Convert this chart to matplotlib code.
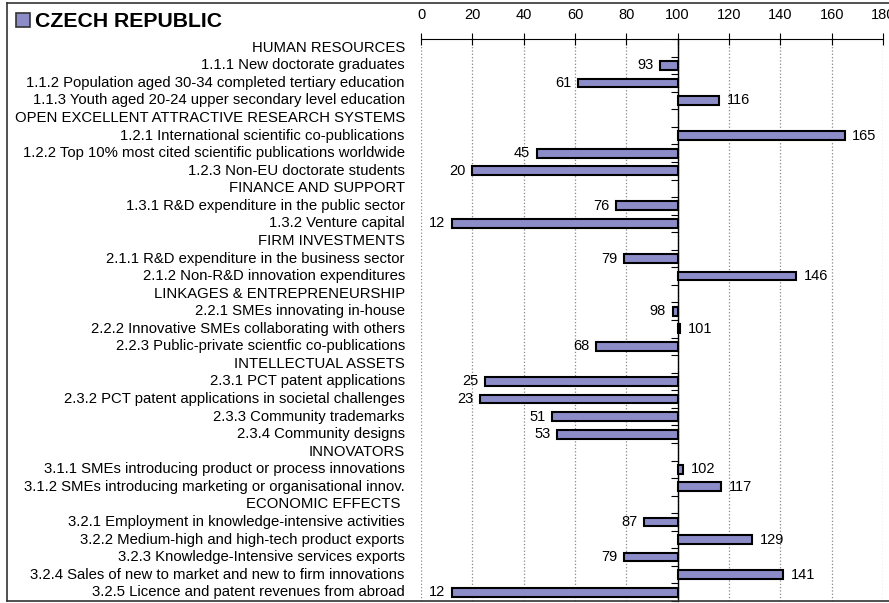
import matplotlib.pyplot as plt
from matplotlib.patches import Rectangle
from matplotlib.lines import Line2D

plt.rcParams['font.family'] = ['Liberation Sans', 'DejaVu Sans']

# rows top to bottom, None = section header
labels = [
    "HUMAN RESOURCES",
    "1.1.1 New doctorate graduates",
    "1.1.2 Population aged 30-34 completed tertiary education",
    "1.1.3 Youth aged 20-24 upper secondary level education",
    "OPEN EXCELLENT ATTRACTIVE RESEARCH SYSTEMS",
    "1.2.1 International scientific co-publications",
    "1.2.2 Top 10% most cited scientific publications worldwide",
    "1.2.3 Non-EU doctorate students",
    "FINANCE AND SUPPORT",
    "1.3.1 R&D expenditure in the public sector",
    "1.3.2 Venture capital",
    "FIRM INVESTMENTS",
    "2.1.1 R&D expenditure in the business sector",
    "2.1.2 Non-R&D innovation expenditures",
    "LINKAGES & ENTREPRENEURSHIP",
    "2.2.1 SMEs innovating in-house",
    "2.2.2 Innovative SMEs collaborating with others",
    "2.2.3 Public-private scientfic co-publications",
    "INTELLECTUAL ASSETS",
    "2.3.1 PCT patent applications",
    "2.3.2 PCT patent applications in societal challenges",
    "2.3.3 Community trademarks",
    "2.3.4 Community designs",
    "INNOVATORS",
    "3.1.1 SMEs introducing product or process innovations",
    "3.1.2 SMEs introducing marketing or organisational innov.",
    "ECONOMIC EFFECTS ",
    "3.2.1 Employment in knowledge-intensive activities",
    "3.2.2 Medium-high and high-tech product exports",
    "3.2.3 Knowledge-Intensive services exports",
    "3.2.4 Sales of new to market and new to firm innovations",
    "3.2.5 Licence and patent revenues from abroad",
]
values = [None, 93, 61, 116, None, 165, 45, 20, None, 76, 12, None, 79, 146,
          None, 98, 101, 68, None, 25, 23, 51, 53, None, 102, 117, None,
          87, 129, 79, 141, 12]
xticks = [0, 20, 40, 60, 80, 100, 120, 140, 160, 180]
base = 100
bar_color = '#8B8CC8'

fig = plt.figure(figsize=(8.89, 6.03), dpi=100)
ax = fig.add_axes([421 / 889, 1 - 601 / 603, 462 / 889, 562 / 603])

for i, v in enumerate(values):
    if v is None:
        continue
    ax.barh(i, v - base, left=base, height=0.5, color=bar_color,
            edgecolor='black', linewidth=1.5, zorder=3)
    if v < base:
        ax.text(v - 2.5, i, str(v), ha='right', va='center', fontsize=10.5)
    else:
        ax.text(v + 3, i, str(v), ha='left', va='center', fontsize=10.5)

ax.set_xlim(0, 180)
ax.set_ylim(len(labels) - 0.5, -0.5)
ax.xaxis.tick_top()
ax.set_xticks(xticks)
ax.set_xticklabels([str(t) for t in xticks], fontsize=10.5)
ax.tick_params(axis='x', direction='inout', length=9, width=0.8, pad=8)
ax.xaxis.grid(True, linestyle=':', color='#888888', linewidth=0.9)
ax.set_axisbelow(True)

for s in ['right', 'bottom']:
    ax.spines[s].set_visible(False)
ax.spines['left'].set_position(('data', base))
ax.spines['left'].set_linewidth(1.0)
ax.spines['top'].set_linewidth(0.8)
ax.set_yticks([k + 0.5 for k in range(-1, len(labels))])
ax.set_yticklabels([])
ax.tick_params(axis='y', direction='out', length=5, width=0.8)

trans = ax.get_yaxis_transform()
for i, lab in enumerate(labels):
    ax.text(-0.035, i, lab, transform=trans, ha='right', va='center',
            fontsize=10.7, clip_on=False)

# title with legend square
fig.patches.append(Rectangle((16 / 889, 1 - 27 / 603), 14 / 889, 14 / 603,
                             transform=fig.transFigure, facecolor=bar_color,
                             edgecolor='#333333', linewidth=1.2))
fig.text(35 / 889, 1 - 27 / 603, "CZECH REPUBLIC", fontsize=15.3,
         fontweight='bold', va='baseline', ha='left')

# outer frame
fig.lines.append(Line2D([7 / 889, 1], [1 - 3 / 603, 1 - 3 / 603],
                        transform=fig.transFigure, color='#333333', lw=1.2))
fig.lines.append(Line2D([7 / 889, 7 / 889], [1 - 3 / 603, 1 - 601 / 603],
                        transform=fig.transFigure, color='#333333', lw=1.2))
fig.lines.append(Line2D([7 / 889, 1], [1 - 601 / 603, 1 - 601 / 603],
                        transform=fig.transFigure, color='#333333', lw=1.2))

fig.savefig('out.png', dpi=100)
